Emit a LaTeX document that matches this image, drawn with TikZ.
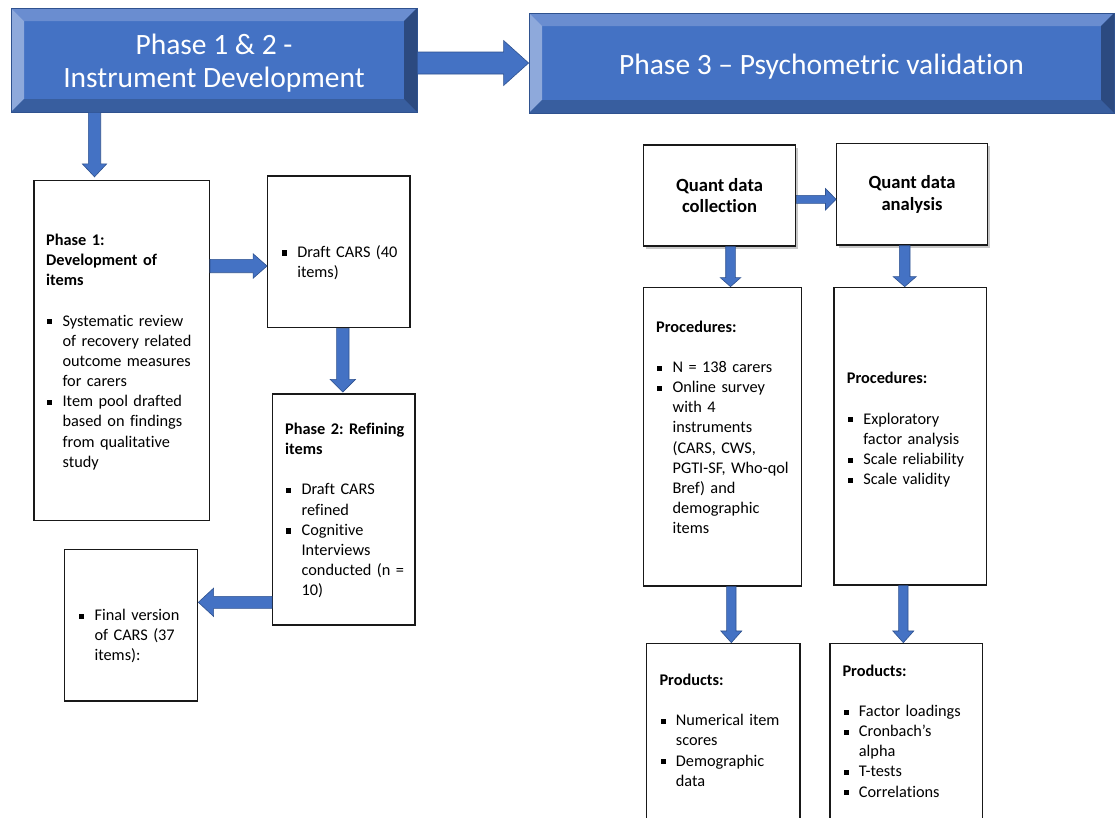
\documentclass[tikz,border=0pt]{standalone}
\usepackage{fontspec}
\setmainfont{Carlito}[Ligatures=NoCommon]
\usetikzlibrary{calc,fit,shadows}

\definecolor{accent}{HTML}{4472C4}
\definecolor{accentdk}{HTML}{2F528F}
\definecolor{bevtop}{HTML}{6A8DD0}
\definecolor{bevleft}{HTML}{8EA9DB}
\definecolor{bevbot}{HTML}{385E9F}
\definecolor{bevright}{HTML}{2C4A80}

\frenchspacing
\newcommand\bodyfont{\fontsize{16.3}{20.15}\selectfont}
\newcommand\headfont{\fontsize{18.6}{21.5}\selectfont\bfseries}
\newcommand\bannerfont{\fontsize{29.5}{33}\selectfont}
\newcommand\bul{\makebox[16.4pt][l]{\hspace*{1pt}\raisebox{1.7pt}{\rule{5.2pt}{5.2pt}}}}
\newcommand\ind{\hspace*{16.4pt}}
\newcommand\gap{\\[20.15pt]}

\tikzset{
  banner/.style={fill=accent, draw=accentdk, line width=0.8pt, inner sep=0pt, bevel=13pt},
  bannertext/.style={text=white, font=\bannerfont, align=center, inner sep=0pt},
  bevel/.style={path picture={
    \coordinate (bnw) at (path picture bounding box.north west);
    \coordinate (bne) at (path picture bounding box.north east);
    \coordinate (bsw) at (path picture bounding box.south west);
    \coordinate (bse) at (path picture bounding box.south east);
    \fill[bevtop] (bnw) -- (bne) -- ([xshift=-#1,yshift=-#1]bne) -- ([xshift=#1,yshift=-#1]bnw) -- cycle;
    \fill[bevleft] (bnw) -- ([xshift=#1,yshift=-#1]bnw) -- ([xshift=#1,yshift=#1]bsw) -- (bsw) -- cycle;
    \fill[bevbot] (bsw) -- ([xshift=#1,yshift=#1]bsw) -- ([xshift=-#1,yshift=#1]bse) -- (bse) -- cycle;
    \fill[bevright] (bse) -- ([xshift=-#1,yshift=#1]bse) -- ([xshift=-#1,yshift=-#1]bne) -- (bne) -- cycle;
  }},
  box/.style={draw=black!90, line width=1.3pt, fill=white, inner sep=0pt},
  shadowbox/.style={box, drop shadow={shadow xshift=2.5pt, shadow yshift=-2.5pt,
    opacity=0.3, fill=black!70}, font=\headfont, align=center},
  txt/.style={anchor=base west, inner sep=0pt, font=\bodyfont, text width=200pt, align=left},
  % filled block arrow: shaft half-width, head half-width, head length
  barrow/.style n args={3}{fill=accent, draw=accentdk, line width=0.6pt,
    to path={let \p1=(\tikztostart), \p2=(\tikztotarget),
                 \n1={atan2(\y2-\y1,\x2-\x1)} in
      ($(\p1)+(\n1+90:#1)$)
      -- ($(\p2)+(\n1+180:#3)+(\n1+90:#1)$)
      -- ($(\p2)+(\n1+180:#3)+(\n1+90:#2)$)
      -- (\p2)
      -- ($(\p2)+(\n1+180:#3)+(\n1-90:#2)$)
      -- ($(\p2)+(\n1+180:#3)+(\n1-90:#1)$)
      -- ($(\p1)+(\n1-90:#1)$) -- cycle}},
}

\begin{document}
\begin{tikzpicture}[x=1pt, y=-1pt]
\path[use as bounding box] (0,0) rectangle (1119,817);
\clip (0,0) rectangle (1119,817);
\fill[white] (0,0) rectangle (1119,817);

% phase banners
\node[banner, minimum width=406pt, minimum height=104pt] (p12) at (214,60) {};
\node[bannertext] (p12txt) at ([yshift=-3.5pt]p12.center) {Phase 1 \& 2 -\\Instrument Development};
\node[banner, minimum width=585pt, minimum height=100pt] (p3) at (821.5,63) {};
\node[bannertext] (p3txt) at ([yshift=-3.5pt]p3.center) {Phase 3 -- Psychometric validation};

% phase 1 and 2 boxes
\node[box, fit={(34,180.5) (209.3,520.7)}] (dev) {};
\node[box, fit={(267.7,176) (410,327.7)}] (draft) {};
\node[box, fit={(272.7,394) (415,625)}] (refine) {};
\node[box, fit={(64.3,549.3) (197.7,701)}] (final) {};

\node[txt] (devtxt) at (46,245.5) {\textbf{Phase 1:}\\\textbf{Development of}\\\textbf{items}\gap
  \bul Systematic review\\\ind of recovery related\\\ind outcome measures\\\ind for carers\\
  \bul Item pool drafted\\\ind based on findings\\\ind from qualitative\\\ind study};
\node[txt] (drafttxt) at (280.7,257.2) {\bul Draft CARS (40\\\ind items)};
\node[txt] (refinetxt) at (285,434.5) {\textbf{Phase 2: Refining}\\\textbf{items}\gap
  \bul Draft CARS\\\ind refined\\\bul Cognitive\\\ind Interviews\\\ind conducted (n =\\\ind 10)};
\node[txt] (finaltxt) at (78,620.5) {\bul Final version\\\ind of CARS (37\\\ind items):};

% phase 3 boxes
\node[shadowbox, minimum width=152.4pt, minimum height=101pt] (qcol) at (719.5,195.5)
  {Quant data\\collection};
\node[shadowbox, minimum width=150.6pt, minimum height=101.7pt] (qana) at (912,194.2)
  {Quant data\\analysis};
\node[box, fit={(643.3,287.3) (801.7,586)}] (proc1) {};
\node[box, fit={(834,287.3) (986.7,585)}] (proc2) {};
\node[box, fit={(646.7,643.3) (800,840)}] (prod1) {};
\node[box, fit={(830,643.3) (982.7,840)}] (prod2) {};

\node[txt] (proc1txt) at (656,332.2) {\textbf{Procedures:}\gap
  \bul N = 138 carers\\\bul Online survey\\\ind with 4\\\ind instruments\\\ind (CARS, CWS,\\
  \ind PGTI-SF, Who-qol\\\ind Bref) and\\\ind demographic\\\ind items};
\node[txt] (proc2txt) at (846.7,383.8) {\textbf{Procedures:}\gap
  \bul Exploratory\\\ind factor analysis\\\bul Scale reliability\\\bul Scale validity};
\node[txt] (prod1txt) at (659.3,685.5) {\textbf{Products:}\gap
  \bul Numerical item\\\ind scores\\\bul Demographic\\\ind data};
\node[txt] (prod2txt) at (842.3,676.2) {\textbf{Products:}\gap
  \bul Factor loadings\\\bul Cronbach’s\\\ind alpha\\\bul T-tests\\\bul Correlations};

% block arrows
\draw[barrow={11pt}{22.5pt}{25pt}] (p12.east |- 0,63) to (p3.west |- 0,63);
\draw[barrow={6.2pt}{12.2pt}{13pt}] (p12.south -| 94.5,0) to ($(dev.north -| 94.5,0)+(0,-3)$);
\draw[barrow={6.7pt}{12.3pt}{14pt}] (dev.east |- 0,266) to (draft.west |- 0,266);
\draw[barrow={6.2pt}{12.7pt}{12.7pt}] (draft.south -| 342.8,0) to ($(refine.north -| 342.8,0)+(0,-1.3)$);
\draw[barrow={6pt}{14.2pt}{15.3pt}] (refine.west |- 0,602.3) to (final.east |- 0,602.3);

\draw[barrow={4pt}{10.8pt}{10.6pt}] (qcol.east |- 0,199.3) to (qana.west |- 0,199.3);
\draw[barrow={4.8pt}{10.2pt}{9pt}] (qcol.south -| 730.5,0) to (proc1.north -| 730.5,0);
\draw[barrow={5.3pt}{11.5pt}{10pt}] (qana.south -| 904.7,0) to (proc2.north -| 904.7,0);
\draw[barrow={4.7pt}{10.5pt}{11.7pt}] (proc1.south -| 731.3,0) to (prod1.north -| 731.3,0);
\draw[barrow={4.7pt}{10.5pt}{11.7pt}] (proc2.south -| 903.3,0) to (prod2.north -| 903.3,0);
\end{tikzpicture}
\end{document}
